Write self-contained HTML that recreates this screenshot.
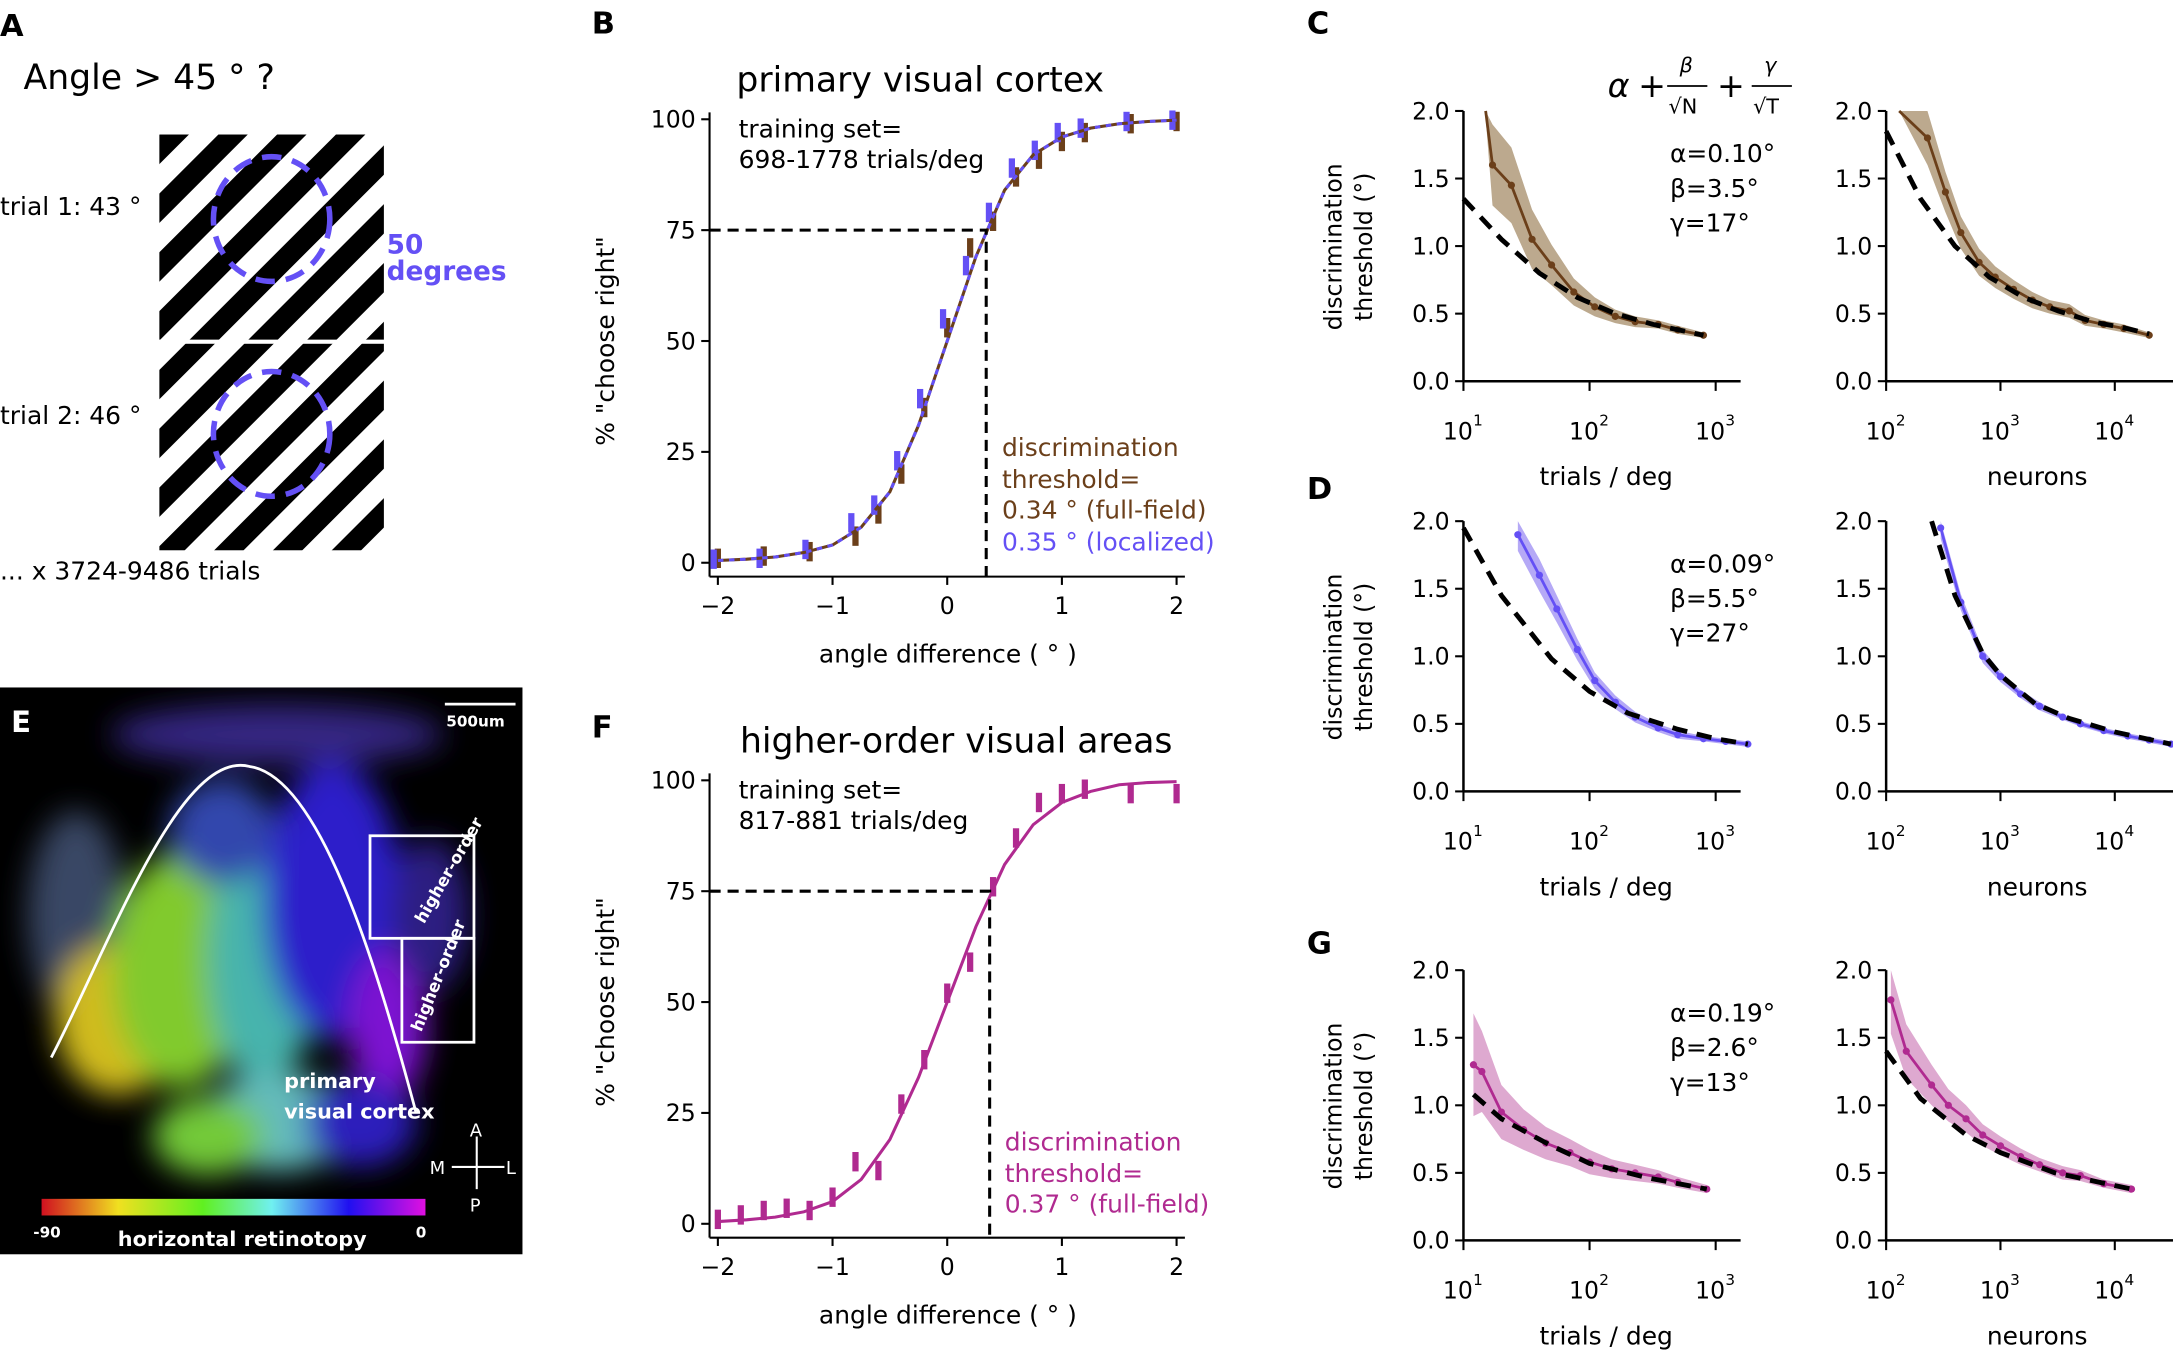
<!DOCTYPE html>
<html><head><meta charset="utf-8"><style>
html,body{margin:0;padding:0;background:#fff}
svg{display:block;font-family:"DejaVu Sans","Liberation Sans",sans-serif}
</style></head><body>
<svg id="fig" width="2173" height="1350" viewBox="0 0 1568 974" xmlns="http://www.w3.org/2000/svg">
<defs>
<pattern id="stripes" patternUnits="userSpaceOnUse" width="30" height="30" patternTransform="rotate(45)">
<rect width="15" height="30" fill="#000"/><rect x="15" width="15" height="30" fill="#fff"/>
</pattern>
<filter id="blur" x="-50%" y="-50%" width="200%" height="200%"><feGaussianBlur stdDeviation="11"/></filter>
<linearGradient id="cbar" x1="0" x2="1" y1="0" y2="0">
<stop offset="0" stop-color="#d01020"/><stop offset="0.2" stop-color="#f0e020"/><stop offset="0.42" stop-color="#60f020"/>
<stop offset="0.6" stop-color="#70f0f0"/><stop offset="0.8" stop-color="#2010f0"/><stop offset="1" stop-color="#e010e0"/>
</linearGradient>
<clipPath id="eclip"><rect x="0" y="496" width="377" height="409"/></clipPath>
</defs>

<g>
<text x="0" y="26" font-size="22" font-weight="bold">A</text>
<text x="17" y="64" font-size="25">Angle &gt; 45 ° ?</text>
<text x="0" y="155" font-size="18">trial 1: 43 °</text>
<rect x="115" y="97" width="162" height="148" fill="url(#stripes)"/>
<ellipse cx="196" cy="158" rx="42" ry="45" fill="none" stroke="#6450f5" stroke-width="4" stroke-dasharray="14,8"/>
<text x="279" y="183" font-size="19" font-weight="bold" fill="#6450f5">50</text>
<text x="279" y="202" font-size="19" font-weight="bold" fill="#6450f5">degrees</text>
<text x="0" y="306" font-size="18">trial 2: 46 °</text>
<rect x="115" y="248" width="162" height="149" fill="url(#stripes)"/>
<ellipse cx="196" cy="313" rx="42" ry="45" fill="none" stroke="#6450f5" stroke-width="4" stroke-dasharray="14,8"/>
<text x="0" y="418" font-size="18">... x 3724-9486 trials</text>
</g>

<g>
<rect x="0" y="496" width="377" height="409" fill="#000"/>
<g clip-path="url(#eclip)">
<g filter="url(#blur)" opacity="0.9">
<ellipse cx="200" cy="530" rx="120" ry="22" fill="#3a2a90"/>
<ellipse cx="55" cy="660" rx="35" ry="75" fill="#405070"/>
<ellipse cx="85" cy="735" rx="45" ry="55" fill="#e8d020"/>
<ellipse cx="130" cy="700" rx="50" ry="85" fill="#90e030"/>
<ellipse cx="190" cy="690" rx="40" ry="95" fill="#50c8c0"/>
<ellipse cx="240" cy="650" rx="50" ry="100" fill="#3020e0"/>
<ellipse cx="280" cy="740" rx="28" ry="55" fill="#8a18e8"/>
<ellipse cx="200" cy="810" rx="55" ry="35" fill="#70d0d0"/>
<ellipse cx="150" cy="820" rx="40" ry="28" fill="#80e040"/>
<ellipse cx="260" cy="810" rx="40" ry="32" fill="#3020d0"/>
<ellipse cx="310" cy="660" rx="28" ry="55" fill="#302090"/>
<ellipse cx="160" cy="600" rx="38" ry="38" fill="#3850c0"/>
</g>
</g>
<text x="8" y="528" font-size="21" font-weight="bold" fill="#fff">E</text>
<line x1="321" y1="508" x2="372" y2="508" stroke="#fff" stroke-width="2"/>
<text x="322" y="524" font-size="11" font-weight="bold" fill="#fff">500um</text>
<path d="M37,763 C80,680 130,540 180,553 C230,560 270,690 300,802" fill="none" stroke="#fff" stroke-width="2"/>
<rect x="267" y="603" width="75" height="74" fill="none" stroke="#fff" stroke-width="2"/>
<rect x="290" y="677" width="52" height="75" fill="none" stroke="#fff" stroke-width="2"/>
<text transform="translate(306,667) rotate(-60)" font-size="12" font-weight="bold" fill="#fff">higher-order</text>
<text transform="translate(304,745) rotate(-68)" font-size="12" font-weight="bold" fill="#fff">higher-order</text>
<text x="205" y="785" font-size="15" font-weight="bold" fill="#fff">primary</text>
<text x="205" y="807" font-size="15" font-weight="bold" fill="#fff">visual cortex</text>
<line x1="344" y1="820" x2="344" y2="858" stroke="#fff" stroke-width="1.5"/>
<line x1="326" y1="842" x2="364" y2="842" stroke="#fff" stroke-width="1.5"/>
<text x="339" y="820" font-size="13" fill="#fff">A</text>
<text x="339" y="874" font-size="13" fill="#fff">P</text>
<text x="310" y="847" font-size="13" fill="#fff">M</text>
<text x="365" y="847" font-size="13" fill="#fff">L</text>
<rect x="30" y="865" width="277" height="12" fill="url(#cbar)"/>
<text x="24" y="893" font-size="11" font-weight="bold" fill="#fff">-90</text>
<text x="300" y="893" font-size="11" font-weight="bold" fill="#fff">0</text>
<text x="85" y="899" font-size="15" font-weight="bold" fill="#fff">horizontal retinotopy</text>
</g>

<g id="charts"></g>
</svg>
<script>
const fitAngles = [-2,-1.75,-1.5,-1.25,-1,-0.75,-0.5,-0.25,0,0.25,0.5,0.75,1,1.25,1.5,1.75,2];
const fitV1 = [0.5,0.8,1.3,2.3,4,8,16,31,50,69,84,92,96,98,99,99.5,99.8];
const fitHO = [0.5,0.9,1.5,2.7,5,10,19,33,50,67,81,90,95,97.5,99,99.5,99.7];
const barAnglesV1 = [-2,-1.6,-1.2,-0.8,-0.6,-0.4,-0.2,0,0.2,0.4,0.6,0.8,1.0,1.2,1.6,2];
const barV1Brown = [1,1.5,2.5,6,11,20,35,53,71,77,87,91,95,97,99,99.5];
const barV1Blue = [0.8,1,3,9,13,23,37,55,67,79,89,93,97,98,99.5,99.8];
const barAnglesHO = [-2,-1.8,-1.6,-1.4,-1.2,-1.0,-0.8,-0.6,-0.4,-0.2,0,0.2,0.4,0.6,0.8,1.0,1.2,1.6,2];
const barHO = [1,2,3,3.5,3,6,14,12,27,37,52,59,76,87,95,97,98,97,97];
const threshV1 = 0.34;
const threshHO = 0.37;

const cTrialsX = [15,17,24,35,50,75,110,160,230,350,500,800];
const cTrialsY = [2.3,1.6,1.45,1.05,0.86,0.66,0.55,0.48,0.44,0.42,0.38,0.34];
const cTrialsErr = [0.35,0.3,0.28,0.22,0.15,0.1,0.07,0.05,0.04,0.03,0.03,0.02];
const cTrialsFitX = [10,20,40,80,160,320,800];
const cTrialsFitY = [1.35,1.05,0.8,0.62,0.5,0.42,0.34];
const cNeurX = [130,230,330,450,650,900,1300,1900,2700,4000,5500,8000,12000,20000];
const cNeurY = [2.3,1.8,1.4,1.1,0.88,0.77,0.68,0.6,0.55,0.52,0.45,0.42,0.39,0.34];
const cNeurErr = [0.3,0.2,0.15,0.12,0.1,0.08,0.07,0.06,0.05,0.05,0.04,0.03,0.03,0.02];
const cNeurFitX = [100,200,400,800,1600,3200,6400,12800,20000];
const cNeurFitY = [1.85,1.35,1.0,0.77,0.62,0.52,0.44,0.39,0.35];

const dTrialsX = [27,40,55,80,110,160,230,350,500,800,1200,1800];
const dTrialsY = [1.9,1.6,1.35,1.05,0.82,0.66,0.55,0.47,0.42,0.39,0.37,0.35];
const dTrialsErr = [0.12,0.12,0.1,0.08,0.06,0.05,0.04,0.03,0.03,0.02,0.02,0.02];
const dTrialsFitX = [10,20,50,100,200,500,1000,1800];
const dTrialsFitY = [1.95,1.45,0.98,0.74,0.58,0.46,0.39,0.35];
const dNeurX = [300,450,700,1000,1500,2200,3500,5000,8000,13000,20000,31000];
const dNeurY = [1.95,1.4,1.0,0.85,0.72,0.63,0.55,0.5,0.45,0.41,0.38,0.35];
const dNeurErr = [0.08,0.06,0.05,0.04,0.03,0.03,0.02,0.02,0.02,0.02,0.02,0.02];
const dNeurFitX = [250,400,700,1000,2000,4000,10000,31000];
const dNeurFitY = [2.0,1.45,1.02,0.86,0.65,0.54,0.44,0.35];

const gTrialsX = [12,14,20,30,45,70,100,150,230,350,500,850];
const gTrialsY = [1.3,1.25,0.95,0.82,0.72,0.65,0.58,0.53,0.5,0.47,0.43,0.38];
const gTrialsErr = [0.38,0.3,0.2,0.15,0.12,0.1,0.09,0.07,0.06,0.05,0.04,0.03];
const gTrialsFitX = [12,20,50,100,300,850];
const gTrialsFitY = [1.08,0.9,0.7,0.57,0.46,0.38];
const gNeurX = [110,150,250,350,500,700,1000,1500,2200,3500,5000,8000,14000];
const gNeurY = [1.78,1.4,1.15,1.0,0.9,0.78,0.7,0.62,0.56,0.5,0.48,0.42,0.38];
const gNeurErr = [0.25,0.2,0.15,0.12,0.1,0.08,0.07,0.06,0.05,0.05,0.04,0.03,0.03];
const gNeurFitX = [100,200,500,1000,3000,14000];
const gNeurFitY = [1.4,1.05,0.78,0.65,0.5,0.38];

const psychYTicks = [0,25,50,75,100];
const psychXTicks = [-2,-1,0,1,2];
const thrYTicks = ['0.0','0.5','1.0','1.5','2.0'];

const NS = 'http://www.w3.org/2000/svg';
const root = document.getElementById('charts');
function mk(tag, attrs, parent, text){
  const e = document.createElementNS(NS, tag);
  for (const k in attrs) e.setAttribute(k, attrs[k]);
  if (text !== undefined) e.textContent = text;
  (parent||root).appendChild(e);
  return e;
}
const BROWN='#6b3f1a', BROWNB='#b09a7a', BLUE='#6450f5', BLUEB='#a89af5', MAG='#b02a90', MAGB='#d89ac8';

function psych(opts){
  const g = mk('g', {});
  
  
  const x0=518, x1=849, yTop=opts.yTop, yBot=opts.yTop+320;
  const sx = v => x0 + (v+2)/4*(x1-x0);
  const sy = v => yBot - v/100*(yBot-yTop);
  const ax = mk('g', {}, g);
  
  
  mk('line',{x1:512,y1:yTop-5,x2:512,y2:yBot+10,stroke:'#000','stroke-width':1.5},ax);
  mk('line',{x1:512,y1:yBot+10,x2:855,y2:yBot+10,stroke:'#000','stroke-width':1.5},ax);
  psychYTicks.forEach(t=>{
    mk('line',{x1:506,y1:sy(t),x2:512,y2:sy(t),stroke:'#000','stroke-width':1.5},ax);
    const tl = mk('text',{x:502,y:sy(t)+6,'font-size':17,'text-anchor':'end'},ax,String(t));
    
    
  });
  psychXTicks.forEach(t=>{
    mk('line',{x1:sx(t),y1:yBot+10,x2:sx(t),y2:yBot+16,stroke:'#000','stroke-width':1.5},ax);
    const tl = mk('text',{x:sx(t),y:yBot+37,'font-size':17,'text-anchor':'middle'},ax,t<0?'\u2212'+(-t):String(t));
    
    
  });
  const xl = mk('text',{x:684,y:yBot+72,'font-size':18,'text-anchor':'middle'},ax,'angle difference  ( ° )');
  
  
  const yl = mk('text',{transform:`translate(443,${(yTop+yBot)/2}) rotate(-90)`,'font-size':18,'text-anchor':'middle'},ax,'% "choose right"');
  
  
  const tt = mk('text',{x:opts.titleX,y:yTop-20,'font-size':25,'text-anchor':'middle'},g,opts.title);
  
  
  opts.bars.forEach(b=>{
    b.x.forEach((a,i)=>{
      const v=b.y[i];
      const r = mk('line',{x1:sx(a)+b.dx,y1:sy(v)-b.h,x2:sx(a)+b.dx,y2:sy(v)+b.h,stroke:b.color,'stroke-width':4.5},g);
      
      
    });
  });
  opts.fits.forEach(f=>{
    const p = mk('polyline',{points:fitAngles.map((a,i)=>sx(a)+','+sy(f.y[i])).join(' '),fill:'none',stroke:f.color,'stroke-width':2.2,'stroke-dasharray':f.dash||'none'},g);
    
    
  });
  const th = mk('polyline',{points:`512,${sy(75)} ${sx(opts.thresh)},${sy(75)} ${sx(opts.thresh)},${yBot+10}`,fill:'none',stroke:'#000','stroke-width':2.2,'stroke-dasharray':'8,5'},g);
  
  
  opts.texts.forEach(t=>{
    const e = mk('text',{x:t[0],y:t[1],'font-size':18,fill:t[3]||'#000'},g,t[2]);
    
    
  });
}
psych({name:'panel-b-v1-psychometric',yTop:86,title:'primary visual cortex',titleX:664,thresh:threshV1,
  bars:[{x:barAnglesV1,y:barV1Brown,color:BROWN,dx:0,h:7,name:'data-bar-full-field'},{x:barAnglesV1,y:barV1Blue,color:BLUE,dx:-3,h:7,name:'data-bar-localized'}],
  fits:[{y:fitV1,color:BROWN,name:'fit-curve-full-field'},{y:fitV1,color:BLUE,dash:'4,4',name:'fit-curve-localized'}],
  texts:[[533,99,'training set='],[533,121,'698-1778 trials/deg'],[723,329,'discrimination',BROWN,'threshold-text'],[723,352,'threshold=',BROWN,'threshold-text'],[723,374,'0.34 °  (full-field)',BROWN,'threshold-value-full'],[723,397,'0.35 °  (localized)',BLUE,'threshold-value-localized']]
    .map(t=>{if(!t[4]) t[4]='training-set-text'; return t;})
});
psych({name:'panel-f-higher-order-psychometric',yTop:563,title:'higher-order visual areas',titleX:690,thresh:threshHO,
  bars:[{x:barAnglesHO,y:barHO,color:MAG,dx:0,h:7,name:'data-bar'}],
  fits:[{y:fitHO,color:MAG,name:'fit-curve'}],
  texts:[[533,576,'training set='],[533,598,'817-881 trials/deg'],[725,830,'discrimination',MAG,'threshold-text'],[725,853,'threshold=',MAG,'threshold-text'],[725,875,'0.37 °  (full-field)',MAG,'threshold-value']]
    .map(t=>{if(!t[4]) t[4]='training-set-text'; return t;})
});
[['B',427,24],['F',427,532]].forEach(l=>{
  const e=mk('text',{x:l[1],y:l[2],'font-size':22,'font-weight':'bold'},root,l[0]);
  
  
});

function scal(opts){
  const g = mk('g',{});
  
  
  const yTop=opts.yTop, yBot=opts.yTop+195;
  const sy = v => yBot - Math.min(v,2)/2*(yBot-yTop);
  const sx = v => opts.x0 + (Math.log10(v)-opts.d0)*opts.ppd;
  mk('line',{x1:opts.x0,y1:yTop,x2:opts.x0,y2:yBot,stroke:'#000','stroke-width':1.8},g);
  mk('line',{x1:opts.x0,y1:yBot,x2:opts.xEnd,y2:yBot,stroke:'#000','stroke-width':1.8},g);
  thrYTicks.forEach((t,i)=>{
    const yy = sy(parseFloat(t));
    mk('line',{x1:opts.x0-6,y1:yy,x2:opts.x0,y2:yy,stroke:'#000','stroke-width':1.5},g);
    const e=mk('text',{x:opts.x0-10,y:yy+6,'font-size':17,'text-anchor':'end'},g,t);
    
    
  });
  opts.decades.forEach(d=>{
    const xx = opts.x0+(d-opts.d0)*opts.ppd;
    mk('line',{x1:xx,y1:yBot,x2:xx,y2:yBot+7,stroke:'#000','stroke-width':1.5},g);
    const e=mk('text',{x:xx-4,y:yBot+42,'font-size':17,'text-anchor':'middle'},g,'10');
    
    
    mk('text',{x:xx+7,y:yBot+32,'font-size':11},g,String(d));
  });
  const xl=mk('text',{x:opts.labX,y:yBot+75,'font-size':18,'text-anchor':'middle'},g,opts.xlabel);
  
  
  const up = opts.x.map((v,i)=>sx(v)+','+sy(opts.y[i]+opts.e[i]));
  const dn = opts.x.map((v,i)=>sx(v)+','+sy(opts.y[i]-opts.e[i])).reverse();
  const band = mk('polygon',{points:up.concat(dn).join(' '),fill:opts.band,opacity:0.85},g);
  
  
  const ln = mk('polyline',{points:opts.x.map((v,i)=>sx(v)+','+sy(opts.y[i])).join(' '),fill:'none',stroke:opts.color,'stroke-width':2},g);
  
  
  opts.x.forEach((v,i)=>{
    if(opts.y[i]>2) return;
    const c=mk('circle',{cx:sx(v),cy:sy(opts.y[i]),r:2.6,fill:opts.color},g);
    
    
  });
  const f = mk('polyline',{points:opts.fx.map((v,i)=>sx(v)+','+sy(opts.fy[i])).join(' '),fill:'none',stroke:'#000','stroke-width':3.5,'stroke-dasharray':'11,7'},g);
  
  
}
const rows = [
  {key:'c',yTop:80,color:BROWN,band:BROWNB,t:[cTrialsX,cTrialsY,cTrialsErr,cTrialsFitX,cTrialsFitY],n:[cNeurX,cNeurY,cNeurErr,cNeurFitX,cNeurFitY],params:['α=0.10°','β=3.5°','γ=17°']},
  {key:'d',yTop:376,color:BLUE,band:BLUEB,t:[dTrialsX,dTrialsY,dTrialsErr,dTrialsFitX,dTrialsFitY],n:[dNeurX,dNeurY,dNeurErr,dNeurFitX,dNeurFitY],params:['α=0.09°','β=5.5°','γ=27°']},
  {key:'g',yTop:700,color:MAG,band:MAGB,t:[gTrialsX,gTrialsY,gTrialsErr,gTrialsFitX,gTrialsFitY],n:[gNeurX,gNeurY,gNeurErr,gNeurFitX,gNeurFitY],params:['α=0.19°','β=2.6°','γ=13°']}
];
rows.forEach(r=>{
  scal({name:'panel-'+r.key+'-trials',yTop:r.yTop,x0:1056,d0:1,ppd:91,xEnd:1256,decades:[1,2,3],labX:1159,xlabel:'trials / deg',
    color:r.color,band:r.band,x:r.t[0],y:r.t[1],e:r.t[2],fx:r.t[3],fy:r.t[4]});
  scal({name:'panel-'+r.key+'-neurons',yTop:r.yTop,x0:1361,d0:2,ppd:82.5,xEnd:1568,decades:[2,3,4],labX:1470,xlabel:'neurons',
    color:r.color,band:r.band,x:r.n[0],y:r.n[1],e:r.n[2],fx:r.n[3],fy:r.n[4]});
  const yl = mk('text',{transform:`translate(968,${r.yTop+98}) rotate(-90)`,'font-size':17,'text-anchor':'middle'},root,'discrimination');
  
  
  const yl2 = mk('text',{transform:`translate(990,${r.yTop+98}) rotate(-90)`,'font-size':17,'text-anchor':'middle'},root,'threshold (°)');
  
  
  r.params.forEach((p,i)=>{
    const e=mk('text',{x:1205,y:r.yTop+37+i*25,'font-size':18},root,p);
    
    
  });
});
[['C',943,24],['D',943,360],['G',943,688]].forEach(l=>{
  const e=mk('text',{x:l[1],y:l[2],'font-size':22,'font-weight':'bold'},root,l[0]);
  
  
});
const fm = mk('g',{});


mk('text',{x:1160,y:70,'font-size':24,'font-style':'italic'},fm,'α');
mk('text',{x:1182,y:70,'font-size':24},fm,'+');
mk('text',{x:1212,y:52,'font-size':15,'font-style':'italic'},fm,'β');
mk('line',{x1:1203,y1:62,x2:1232,y2:62,stroke:'#000','stroke-width':1.3},fm);
mk('text',{x:1204,y:82,'font-size':15},fm,'√N');
mk('text',{x:1239,y:70,'font-size':24},fm,'+');
mk('text',{x:1273,y:52,'font-size':15,'font-style':'italic'},fm,'γ');
mk('line',{x1:1264,y1:62,x2:1293,y2:62,stroke:'#000','stroke-width':1.3},fm);
mk('text',{x:1265,y:82,'font-size':15},fm,'√T');
</script>
</body></html>
